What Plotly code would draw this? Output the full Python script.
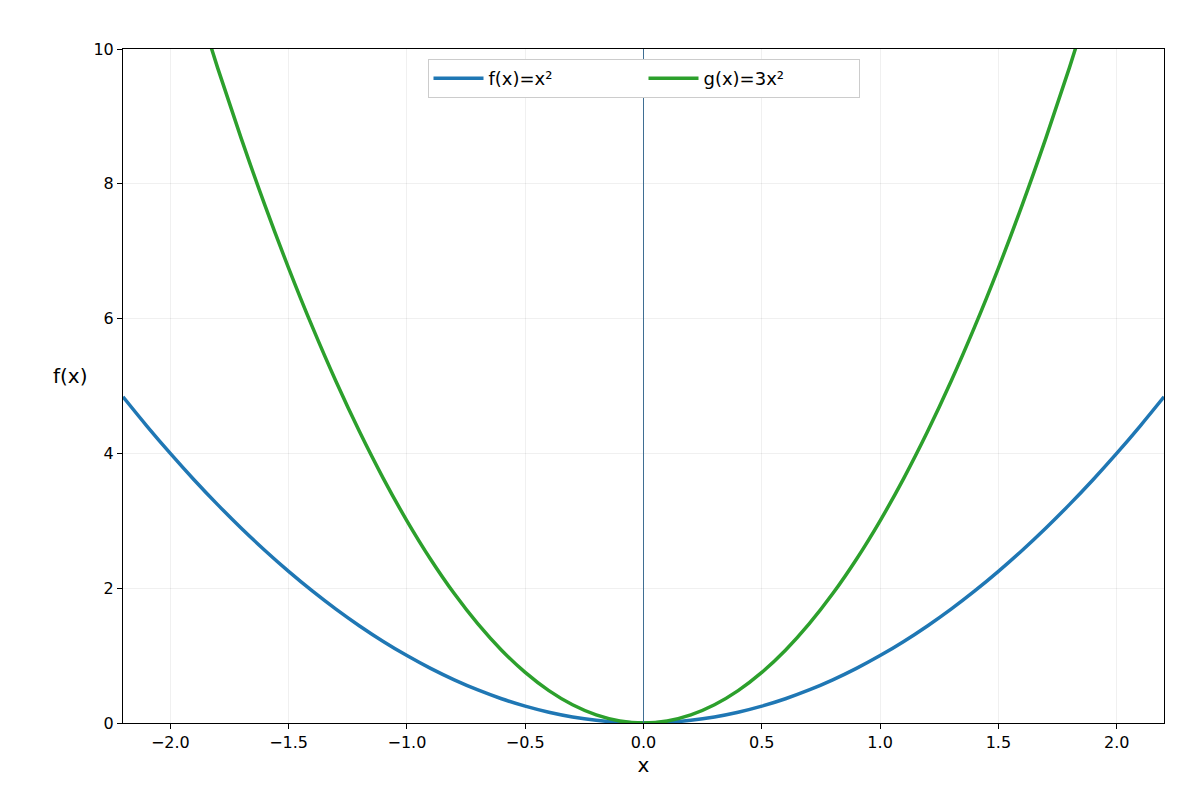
import plotly.graph_objects as go

# sample points
x_vals = [-2.2, -2.1, -2.0, -1.9, -1.8, -1.7, -1.6, -1.5, -1.4, -1.3, -1.2, -1.1, -1.0,
          -0.9, -0.8, -0.7, -0.6, -0.5, -0.4, -0.3, -0.2, -0.1, 0.0,
          0.1, 0.2, 0.3, 0.4, 0.5, 0.6, 0.7, 0.8, 0.9, 1.0, 1.1, 1.2,
          1.3, 1.4, 1.5, 1.6, 1.7, 1.8, 1.9, 2.0, 2.1, 2.2]
f_half = [4.84, 4.41, 4.0, 3.61, 3.24, 2.89, 2.56, 2.25, 1.96, 1.69, 1.44, 1.21, 1.0,
          0.81, 0.64, 0.49, 0.36, 0.25, 0.16, 0.09, 0.04, 0.01]
g_half = [14.52, 13.23, 12.0, 10.83, 9.72, 8.67, 7.68, 6.75, 5.88, 5.07, 4.32, 3.63, 3.0,
          2.43, 1.92, 1.47, 1.08, 0.75, 0.48, 0.27, 0.12, 0.03]
f_vals = f_half + [0.0] + f_half[::-1]
g_vals = g_half + [0.0] + g_half[::-1]

x_ticks = [-2.0, -1.5, -1.0, -0.5, 0.0, 0.5, 1.0, 1.5, 2.0]
x_labels = ['−2.0', '−1.5', '−1.0', '−0.5', '0.0', '0.5', '1.0', '1.5', '2.0']
y_ticks = [0, 2, 4, 6, 8, 10]

fig = go.Figure()
fig.add_trace(go.Scatter(x=x_vals, y=f_vals, mode='lines', name='f(x)=x²',
                         line=dict(color='#1f77b4', width=3.5, shape='spline')))
fig.add_trace(go.Scatter(x=x_vals, y=g_vals, mode='lines', name='g(x)=3x²',
                         line=dict(color='#2ca02c', width=3.5, shape='spline')))

# vertical line at x = 0
fig.add_vline(x=0, line=dict(color='#3f6e93', width=1))

axis_common = dict(showline=True, linecolor='black', linewidth=1, mirror=True,
                   ticks='outside', ticklen=5, tickcolor='black',
                   showgrid=True, gridcolor='rgba(0,0,0,0.06)', zeroline=False,
                   tickfont=dict(size=16, color='black'))

fig.update_layout(
    width=1200, height=800,
    margin=dict(l=115, r=44, t=41, b=85, autoexpand=False),
    plot_bgcolor='white', paper_bgcolor='white',
    font=dict(family='DejaVu Sans', color='black'),
    xaxis=dict(range=[-2.2, 2.2], tickvals=x_ticks, ticktext=x_labels,
               title=dict(text='x', font=dict(size=20), standoff=6), **axis_common),
    yaxis=dict(range=[0, 10], tickvals=y_ticks, **axis_common),
    legend=dict(orientation='h', x=0.5, xanchor='center', y=0.985, yanchor='top',
                bgcolor='white', bordercolor='#cccccc', borderwidth=1,
                font=dict(size=18), entrywidth=150, itemwidth=50),
    showlegend=True,
)
fig.add_annotation(text='f(x)', xref='paper', yref='paper', x=-0.033, y=0.515,
                   xanchor='right', yanchor='middle', showarrow=False,
                   font=dict(size=20))

fig.write_html("out.html")
